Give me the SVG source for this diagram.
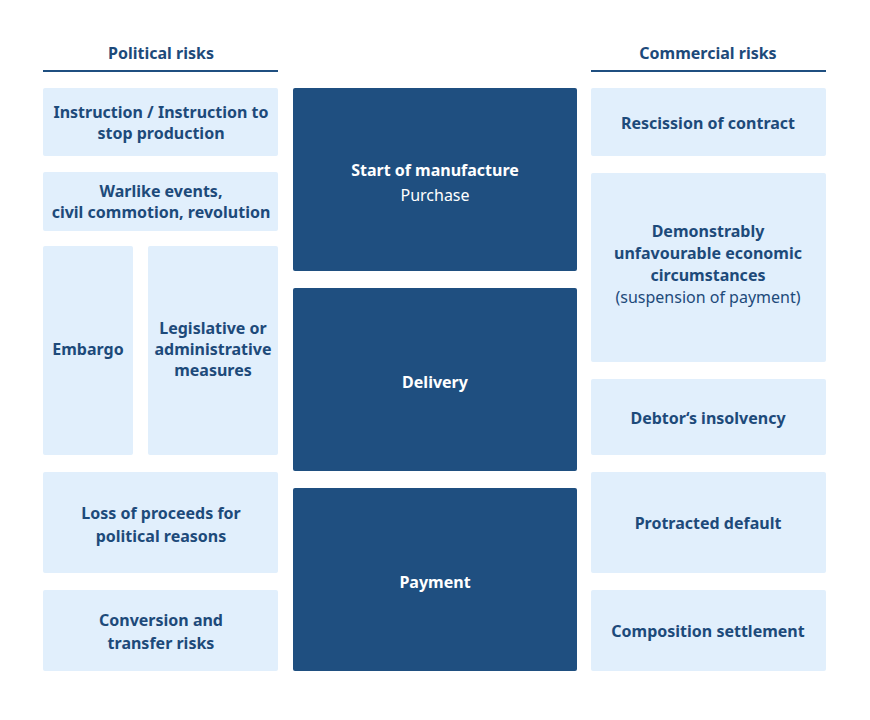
<svg xmlns="http://www.w3.org/2000/svg" width="870" height="720" viewBox="0 0 870 720">
<style>
.l{fill:#e1effc}
.d{fill:#1f4f80}
text{font-family:"Noto Sans","Open Sans",sans-serif;font-size:16px;text-anchor:middle}
.t{fill:#1d4a7a;font-weight:bold}
.n{fill:#1d4a7a}
.w{fill:#fff;font-weight:bold}
.wn{fill:#fff}
.h{stroke:#1f4f80;stroke-width:2}
</style>
<rect width="870" height="720" fill="#fff"/>
<g id="hdr-left"><text class="t" x="161" y="59">Political risks</text><line class="h" x1="43" y1="71" x2="278" y2="71"/></g>
<g id="hdr-right"><text class="t" x="708" y="59">Commercial risks</text><line class="h" x1="591" y1="71" x2="826" y2="71"/></g>
<g id="p1"><rect class="l" x="43" y="88" width="235" height="68" rx="2"/><text class="t" x="161" y="118">Instruction / Instruction to</text><text class="t" x="161" y="139">stop production</text></g>
<g id="p2"><rect class="l" x="43" y="172" width="235" height="59" rx="2"/><text class="t" x="161" y="197">Warlike events,</text><text class="t" x="161" y="218">civil commotion, revolution</text></g>
<g id="p3"><rect class="l" x="43" y="246" width="90" height="209" rx="2"/><text class="t" x="88" y="355">Embargo</text></g>
<g id="p4"><rect class="l" x="148" y="246" width="130" height="209" rx="2"/><text class="t" x="213" y="334">Legislative or</text><text class="t" x="213" y="355">administrative</text><text class="t" x="213" y="376">measures</text></g>
<g id="p5"><rect class="l" x="43" y="472" width="235" height="101" rx="2"/><text class="t" x="161" y="519">Loss of proceeds for</text><text class="t" x="161" y="542">political reasons</text></g>
<g id="p6"><rect class="l" x="43" y="590" width="235" height="81" rx="2"/><text class="t" x="161" y="626">Conversion and</text><text class="t" x="161" y="649">transfer risks</text></g>
<g id="m1"><rect class="d" x="293" y="88" width="284" height="183" rx="2"/><text class="w" x="435" y="176">Start of manufacture</text><text class="wn" x="435" y="201">Purchase</text></g>
<g id="m2"><rect class="d" x="293" y="288" width="284" height="183" rx="2"/><text class="w" x="435" y="388">Delivery</text></g>
<g id="m3"><rect class="d" x="293" y="488" width="284" height="183" rx="2"/><text class="w" x="435" y="588">Payment</text></g>
<g id="c1"><rect class="l" x="591" y="88" width="235" height="68" rx="2"/><text class="t" x="708" y="129">Rescission of contract</text></g>
<g id="c2"><rect class="l" x="591" y="173" width="235" height="189" rx="2"/><text class="t" x="708" y="237">Demonstrably</text><text class="t" x="708" y="259">unfavourable economic</text><text class="t" x="708" y="281">circumstances</text><text class="n" x="708" y="303">(suspension of payment)</text></g>
<g id="c3"><rect class="l" x="591" y="379" width="235" height="76" rx="2"/><text class="t" x="708" y="424">Debtor‘s insolvency</text></g>
<g id="c4"><rect class="l" x="591" y="472" width="235" height="101" rx="2"/><text class="t" x="708" y="529">Protracted default</text></g>
<g id="c5"><rect class="l" x="591" y="590" width="235" height="81" rx="2"/><text class="t" x="708" y="637">Composition settlement</text></g>
<g id="connectors"/>
</svg>
